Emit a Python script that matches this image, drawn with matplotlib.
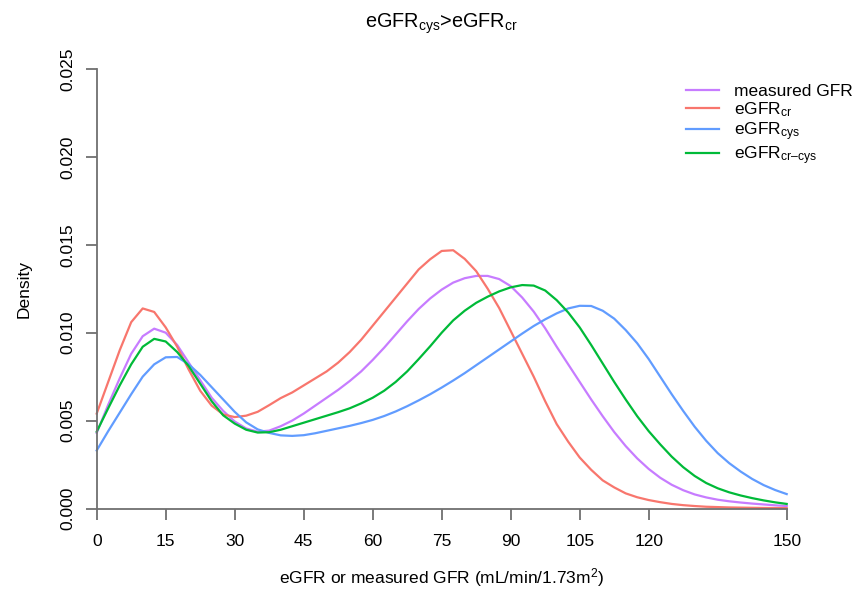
import numpy as np
import matplotlib
matplotlib.use('Agg')
import matplotlib.pyplot as plt

plt.rcParams['font.family'] = ['Liberation Sans', 'DejaVu Sans']
plt.rcParams['mathtext.fontset'] = 'custom'
plt.rcParams['mathtext.rm'] = 'Liberation Sans'
plt.rcParams['mathtext.it'] = 'Liberation Sans:italic'
plt.rcParams['mathtext.bf'] = 'Liberation Sans:bold'

gfr = [0, 2.5, 5, 7.5, 10, 12.5, 15, 17.5, 20, 22.5, 25, 27.5, 30, 32.5, 35, 37.5,
       40, 42.5, 45, 47.5, 50, 52.5, 55, 57.5, 60, 62.5, 65, 67.5, 70, 72.5,
       75, 77.5, 80, 82.5, 85, 87.5, 90, 92.5, 95, 97.5, 100, 102.5, 105, 107.5,
       110, 112.5, 115, 117.5, 120, 122.5, 125, 127.5, 130, 132.5, 135, 137.5,
       140, 142.5, 145, 147.5, 150]

# densities, in units of 1e-4
dens_measured = [43, 59, 74, 88, 98, 102.3, 100, 93,
                 83, 73, 63, 55.5, 49.5, 45.5, 43.7, 44.3,
                 46.8, 50, 54, 58.5, 63, 67.5, 72.5, 78,
                 84.5, 91.5, 99, 106.5, 113.5, 119.5, 124.5, 128.5,
                 131, 132.3, 132.3, 130.5, 126.5, 120, 112, 102.5,
                 92, 82, 72, 62, 52.5, 43.5, 35.5, 28.5,
                 22.5, 17.5, 13.5, 10.4, 8.0, 6.3, 5.0, 4.1,
                 3.4, 2.8, 2.3, 1.8, 1.4]

dens_cr = [54, 72, 90, 106, 113.8, 111.8, 103, 92,
           79, 67, 58.5, 53.5, 52, 52.8, 55, 58.8,
           62.8, 66, 70, 74, 78, 83, 89, 96,
           104, 112, 120, 128, 136, 141.8, 146.5, 146.9,
           142, 135, 125, 114, 101, 88, 75, 61,
           48, 38, 29, 22, 16, 12, 8.6, 6.4,
           4.8, 3.6, 2.6, 1.9, 1.4, 1.0, 0.8, 0.6,
           0.5, 0.4, 0.3, 0.25, 0.2]

dens_cys = [33, 44, 54.5, 65, 75, 82, 86, 86.2,
            82, 76, 69, 62, 55, 49, 45, 43,
            41.6, 41.3, 41.7, 42.8, 44.2, 45.6, 47, 48.6,
            50.4, 52.6, 55.2, 58.2, 61.5, 65, 68.8, 72.8,
            77, 81.5, 86, 90.5, 95, 99.5, 103.8, 107.6,
            111, 113.8, 115.3, 115.2, 112.5, 108, 101.5, 94,
            85, 75, 65, 55.5, 46.5, 38.5, 31.5, 25.8,
            21, 16.8, 13.3, 10.5, 8.2]

dens_crcys = [43.7, 57, 70, 82, 92, 96.5, 95, 89,
              81, 71, 61, 53, 48.3, 44.8, 43.2, 43.4,
              44.8, 46.8, 48.8, 50.8, 52.8, 54.8, 57, 59.8,
              63, 67, 72, 78, 85, 92.3, 100, 107,
              112.5, 117, 120.5, 123.5, 125.8, 127.1, 126.8, 124,
              118.5, 111.5, 103, 93, 82.5, 72, 62, 52.5,
              44, 36.5, 29.5, 23.5, 18.5, 14.5, 11.5, 9.2,
              7.4, 5.9, 4.6, 3.5, 2.6]

series = [('measured GFR',                     dens_measured, '#C77CFF'),
          ('eGFR$_{\\mathrm{cr}}$',            dens_cr,       '#F8766D'),
          ('eGFR$_{\\mathrm{cys}}$',           dens_cys,      '#619CFF'),
          ('eGFR$_{\\mathrm{cr\u2013cys}}$',   dens_crcys,    '#00BA38')]

xticks = [0, 15, 30, 45, 60, 75, 90, 105, 120, 150]
yticks = [0.000, 0.005, 0.010, 0.015, 0.020, 0.025]

W, H = 856, 590
fig = plt.figure(figsize=(W/100, H/100), dpi=100)
x0, x1, y0, y1 = 96.7, 786.7, 69.0, 508.5
ax = fig.add_axes([x0/W, 1 - y1/H, (x1 - x0)/W, (y1 - y0)/H])

for lab, yv, col in series:
  ax.plot(gfr, np.array(yv)*1e-4, color=col, lw=1.6, label=lab, clip_on=False,
          solid_joinstyle='round')

ax.set_xlim(0, 150)
ax.set_ylim(0, 0.025)

axcol = '#707070'
for s in ['top', 'right']:
  ax.spines[s].set_visible(False)
for s in ['left', 'bottom']:
  ax.spines[s].set_color(axcol)
  ax.spines[s].set_linewidth(1.3)

ax.set_xticks(xticks)
ax.set_xticklabels([str(v) for v in xticks])
ax.set_yticks(yticks)
ax.set_yticklabels(['%.3f' % v for v in yticks], rotation=90, va='center')
ax.tick_params(axis='both', length=8, width=1.3, color=axcol, labelsize=12.5,
               labelcolor='black')
ax.tick_params(axis='x', pad=10)
ax.tick_params(axis='y', pad=7)

fig.text(((x0 + x1)/2)/W, 1 - 578/H, 'eGFR or measured GFR (mL/min/1.73m$^{2}$)',
         ha='center', va='center', fontsize=12.5)
fig.text(24.5/W, 1 - 289/H, 'Density', rotation=90, ha='center', va='center',
         fontsize=12.5)
fig.text(((x0 + x1)/2)/W, 1 - 24/H,
         'eGFR$_{\\mathrm{cys}}$>eGFR$_{\\mathrm{cr}}$',
         ha='center', va='center', fontsize=14.3)

leg = ax.legend(loc='upper left', bbox_to_anchor=(685.5/W, 1 - 84/H),
                bbox_transform=fig.transFigure, frameon=False, fontsize=12.5,
                handlelength=1.95, handletextpad=0.85, labelspacing=0.08,
                borderpad=0, borderaxespad=0)

plt.savefig('out.png', dpi=100)
plt.close()
